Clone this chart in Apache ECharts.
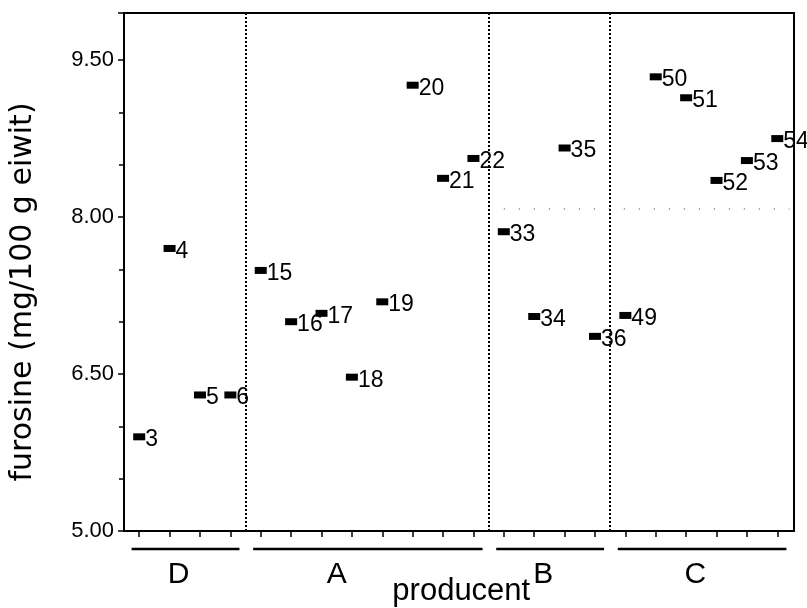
<!DOCTYPE html>
<html>
<head>
<meta charset="utf-8">
<script src="https://cdn.jsdelivr.net/npm/echarts@6/dist/echarts.min.js"></script>
<style>
  html, body { margin: 0; padding: 0; background: #fff; }
  #main { width: 807px; height: 608px; }
</style>
</head>
<body>
<div id="main"></div>
<script>
// sample numbers, one per position on the x axis
const sampleIds = ['3', '4', '5', '6', '15', '16', '17', '18', '19', '20', '21', '22',
    '33', '34', '35', '36', '49', '50', '51', '52', '53', '54'];
const producers = ['D', 'D', 'D', 'D', 'A', 'A', 'A', 'A', 'A', 'A', 'A', 'A',
    'B', 'B', 'B', 'B', 'C', 'C', 'C', 'C', 'C', 'C'];
// furosine (mg/100 g eiwit)
const furosine = [5.90, 7.70, 6.30, 6.30, 7.49, 7.00, 7.08, 6.47, 7.19, 9.26, 8.37, 8.56,
    7.86, 7.05, 8.66, 6.86, 7.06, 9.34, 9.14, 8.35, 8.54, 8.75];
const yTicks = [5.00, 6.50, 8.00, 9.50];
const groupOrder = ['D', 'A', 'B', 'C'];

var chartDom = document.getElementById('main');
var myChart = echarts.init(chartDom);

// positions 1..n on the x axis
let positions = sampleIds.map((id, i) => i + 1)
let points = furosine.map((v, i) => [positions[i], v, sampleIds[i]])

// group ranges and the dotted separators between them
let groups = groupOrder.map(g => {
    let idx = positions.filter((p, i) => producers[i] == g)
    return {name: g, from: Math.min(...idx), to: Math.max(...idx)}
})
let separators = groups.slice(0, -1).map(g => g.to + 0.5)

const font = 'Liberation Sans'

var option = {
    animation: false,
    backgroundColor: '#fff',
    grid: {
        left: 121, right: 13, top: 13, bottom: 77,
        show: true, borderColor: '#000', borderWidth: 2
    },
    xAxis: {
        type: 'value',
        min: 0.5,
        max: 22.55,
        axisLine: {lineStyle: {color: '#000', width: 2}},
        axisTick: {show: true, length: 6, lineStyle: {color: '#000', width: 1.5}, customValues: positions},
        axisLabel: {show: false},
        splitLine: {show: false}
    },
    yAxis: {
        type: 'value',
        min: yTicks[0],
        max: 9.95,
        interval: 1.5,
        name: 'furosine (mg/100 g eiwit)',
        nameLocation: 'middle',
        nameGap: 86,
        nameTextStyle: {fontFamily: 'DejaVu Sans', fontSize: 30, color: '#000', padding: [0, 40, 0, 0]},
        axisLine: {show: true, lineStyle: {color: '#000', width: 2}},
        axisTick: {show: true, length: 6, lineStyle: {color: '#000', width: 1.5}},
        minorTick: {show: true, splitNumber: 3, length: 5, lineStyle: {color: '#000', width: 1.5}},
        axisLabel: {
            fontFamily: font, fontSize: 22, color: '#000', margin: 10,
            showMaxLabel: false,
            formatter: v => yTicks.some(t => Math.abs(t - v) < 1e-6) ? v.toFixed(2) : ''
        },
        splitLine: {show: false}
    },
    series: [{
        type: 'scatter',
        data: points,
        symbol: 'rect',
        symbolSize: [12, 7],
        itemStyle: {color: '#000', opacity: 1},
        label: {
            show: true,
            position: 'right',
            distance: 0,
            offset: [0, 3],
            formatter: p => p.data[2],
            fontFamily: font,
            fontSize: 23,
            color: '#000'
        },
        markLine: {
            silent: true,
            symbol: 'none',
            label: {show: false},
            data: separators.map(x => ({
                xAxis: x,
                lineStyle: {color: '#000', width: 2, type: [2, 2]}
            })).concat([[
                {coord: [13, 8.08], lineStyle: {color: '#777', width: 1.5, type: [1, 14]}},
                {coord: [22.4, 8.08]}
            ]])
        },
        z: 3
    }]
};
option && myChart.setOption(option);

// group underlines and letters below the x axis, placed through the axis scale
let base = myChart.convertToPixel({gridIndex: 0}, [0.5, yTicks[0]])[1]
let graphics = []
groups.forEach(g => {
    let x1 = myChart.convertToPixel({gridIndex: 0}, [g.from - 0.25, yTicks[0]])[0]
    let x2 = myChart.convertToPixel({gridIndex: 0}, [g.to + 0.3, yTicks[0]])[0]
    graphics.push({
        type: 'line',
        shape: {x1: x1, y1: base + 18, x2: x2, y2: base + 18},
        style: {stroke: '#000', lineWidth: 2.5}
    })
    // the A sits left of its group centre, next to the axis title
    let shift = g.name == 'A' ? -1.0 : -0.2
    let cx = myChart.convertToPixel({gridIndex: 0}, [(g.from + g.to) / 2 + shift, yTicks[0]])[0]
    graphics.push({
        type: 'text',
        x: cx, y: base + 44,
        style: {text: g.name, fontFamily: font, fontSize: 30, fill: '#000', align: 'center', verticalAlign: 'middle'}
    })
})
let midX = myChart.convertToPixel({gridIndex: 0}, [11.6, yTicks[0]])[0]
graphics.push({
    type: 'text',
    x: midX, y: base + 60,
    style: {text: 'producent', fontFamily: font, fontSize: 31, fill: '#000', align: 'center', verticalAlign: 'middle'}
})
myChart.setOption({graphic: graphics})
</script>
</body>
</html>
